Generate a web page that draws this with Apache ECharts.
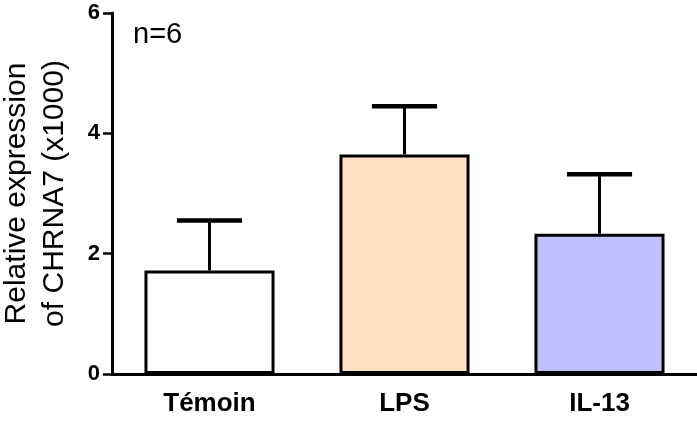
<!DOCTYPE html>
<html>
<head>
<meta charset="utf-8">
<script src="https://cdn.jsdelivr.net/npm/echarts@6/dist/echarts.min.js"></script>
<style>
  html, body { margin: 0; padding: 0; background: #fff; }
  #main { width: 697px; height: 421px; }
</style>
</head>
<body>
<div id="main"></div>
<script>
// values
const categories = ['Témoin', 'LPS', 'IL-13'];
const means = [1.72, 3.65, 2.33];
const errTop = [2.55, 4.45, 3.32];
const barColors = ['#ffffff', '#ffe0c0', '#c0c0ff'];
const yTicks = [0, 2, 4, 6];

const font = 'Arial, "Liberation Sans", sans-serif';
const chart = echarts.init(document.getElementById('main'));

const option = {
  animation: false,
  grid: {
    left: 112, right: 0, top: 13, bottom: 47,
    containLabel: false,
    outerBoundsMode: 'none'
  },
  xAxis: {
    type: 'category',
    data: categories,
    axisLine: { lineStyle: { color: '#000', width: 3 } },
    axisTick: { show: false },
    axisLabel: {
      color: '#000', fontFamily: font, fontWeight: 'bold', fontSize: 26, margin: 17
    }
  },
  yAxis: {
    type: 'value',
    min: yTicks[0],
    max: yTicks[yTicks.length - 1],
    interval: 2,
    name: 'Relative expression\nof CHRNA7 (x1000)',
    nameLocation: 'middle',
    nameGap: 38,
    nameTextStyle: { color: '#000', fontFamily: font, fontSize: 30, lineHeight: 38 },
    axisLine: { show: true, lineStyle: { color: '#000', width: 3 } },
    axisTick: { show: true, length: 9, lineStyle: { color: '#000', width: 2.5 } },
    axisLabel: {
      color: '#000', fontFamily: font, fontWeight: 'bold', fontSize: 22, margin: 12
    },
    splitLine: { show: false }
  },
  graphic: [{
    type: 'text',
    x: 133,
    y: 35,
    style: {
      text: 'n=6', fill: '#000', font: '29px ' + font,
      textVerticalAlign: 'middle', verticalAlign: 'middle'
    }
  }],
  series: [
    {
      type: 'bar',
      data: means.map((v, i) => ({
        value: v,
        itemStyle: { color: barColors[i] }
      })),
      barWidth: '66.7%',
      itemStyle: { borderColor: '#000', borderWidth: 3 },
      z: 2
    },
    {
      type: 'custom',
      data: means.map((v, i) => [i, v, errTop[i]]),
      z: 3,
      renderItem: function (params, api) {
        const base = api.coord([api.value(0), api.value(1)]);
        const top = api.coord([api.value(0), api.value(2)]);
        const half = api.size([1, 0])[0] * 0.167;
        return {
          type: 'group',
          children: [
            {
              type: 'line',
              shape: { x1: base[0], y1: base[1], x2: top[0], y2: top[1] },
              style: { stroke: '#000', lineWidth: 3 }
            },
            {
              type: 'line',
              shape: { x1: top[0] - half, y1: top[1], x2: top[0] + half, y2: top[1] },
              style: { stroke: '#000', lineWidth: 4.5 }
            }
          ]
        };
      }
    }
  ]
};

chart.setOption(option);
</script>
</body>
</html>
